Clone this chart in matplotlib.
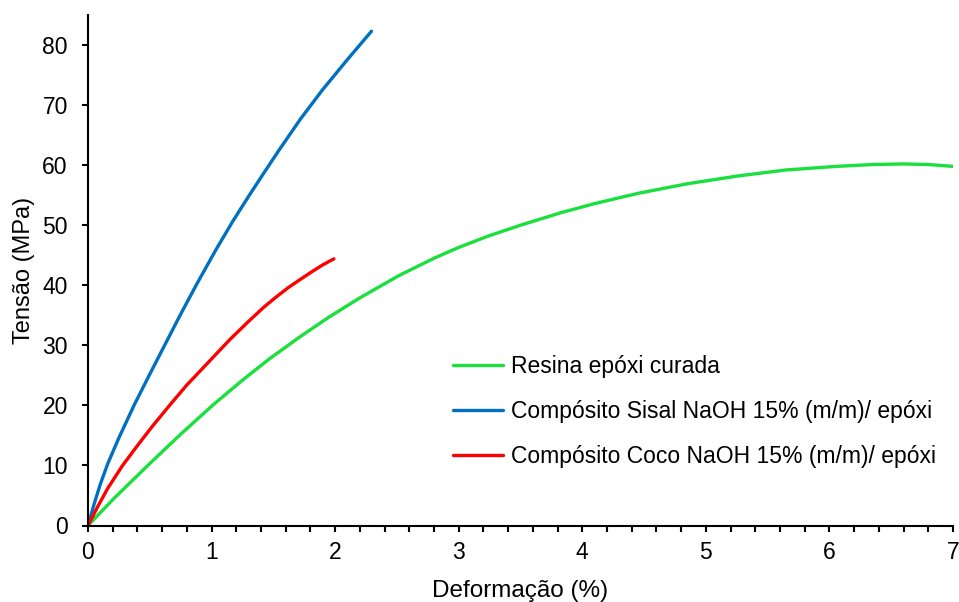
import matplotlib
matplotlib.use("Agg")
import matplotlib.pyplot as plt
from matplotlib.ticker import MultipleLocator

plt.rcParams['font.family'] = ['Liberation Sans', 'DejaVu Sans']

# Data
resina_x = [0, 0.2, 0.484, 0.75, 1.008, 1.25, 1.465, 1.7, 1.95, 2.2, 2.515, 2.8, 3.0, 3.24, 3.5,
            3.83, 4.1, 4.45, 4.85, 5.26, 5.65, 6.06, 6.35, 6.6, 6.8, 7.0]
resina_y = [0, 4.3, 10, 15.2, 20, 24.2, 27.7, 31.2, 34.7, 37.9, 41.6, 44.5, 46.3, 48.2, 50.0,
            52.1, 53.6, 55.3, 56.9, 58.2, 59.2, 59.8, 60.1, 60.2, 60.1, 59.8]

sisal_x = [0, 0.05, 0.1, 0.16, 0.25, 0.377, 0.5, 0.62, 0.74, 0.88, 1.035, 1.17, 1.29,
           1.42, 1.546, 1.72, 1.9, 2.1, 2.294]
sisal_y = [0, 3.6, 6.9, 10.3, 14.6, 20.2, 25.2, 30, 34.8, 40.2, 45.9, 50.6, 54.5,
           58.6, 62.5, 67.7, 72.6, 77.6, 82.3]

coco_x = [0, 0.08, 0.16, 0.28, 0.4, 0.52, 0.66, 0.8, 0.92, 1.035, 1.15, 1.3, 1.42, 1.52,
          1.62, 1.72, 1.815, 1.9, 1.99]
coco_y = [0, 3.2, 6.2, 10, 13.3, 16.5, 20, 23.4, 26, 28.5, 31, 34, 36.3, 38,
          39.6, 41, 42.3, 43.4, 44.4]

labels = ["Resina epóxi curada",
          "Compósito Sisal NaOH 15% (m/m)/ epóxi",
          "Compósito Coco NaOH 15% (m/m)/ epóxi"]
colors = ["#19E03C", "#0070C0", "#FF0000"]

fig = plt.figure(figsize=(9.59, 6.02), dpi=100)
ax = fig.add_axes([88/959, 1-525.5/602, (953-88)/959, (525.5-15)/602])

lw = 2.4
ax.plot(resina_x, resina_y, color=colors[0], lw=lw, label=labels[0],
        solid_capstyle='round', solid_joinstyle='round')
ax.plot(sisal_x, sisal_y, color=colors[1], lw=lw, label=labels[1],
        solid_capstyle='round', solid_joinstyle='round')
ax.plot(coco_x, coco_y, color=colors[2], lw=lw, label=labels[2],
        solid_capstyle='round', solid_joinstyle='round')

ax.set_xlim(0, 7)
ax.set_ylim(0, 85)
ax.xaxis.set_major_locator(MultipleLocator(1))
ax.xaxis.set_minor_locator(MultipleLocator(0.2))
ax.yaxis.set_major_locator(MultipleLocator(10))

for s in ['top', 'right']:
    ax.spines[s].set_visible(False)
for s in ['left', 'bottom']:
    ax.spines[s].set_linewidth(1.5)

ax.tick_params(axis='both', which='major', direction='out', length=4.5, width=1.5,
               labelsize=16.5, colors='black')
ax.tick_params(axis='x', which='major', pad=7)
ax.tick_params(axis='y', which='major', pad=10)
ax.tick_params(axis='x', which='minor', direction='out', length=4, width=1.5)

ax.set_xlabel("Deformação (%)", fontsize=17.5, labelpad=11)
ax.set_ylabel("Tensão (MPa)", fontsize=17, labelpad=5)

ax.legend(loc='upper left', bbox_to_anchor=(453/959, 1-355/602), bbox_transform=fig.transFigure,
          frameon=False, fontsize=16.5, handlelength=2.18, handletextpad=0.35,
          labelspacing=0.95, borderpad=0, borderaxespad=0)

fig.savefig("out.png", dpi=100)
